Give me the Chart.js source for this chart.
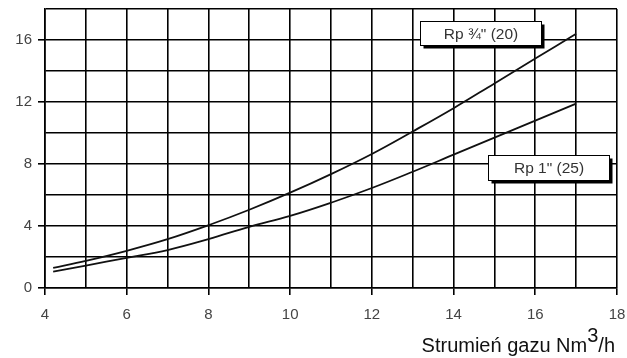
<!DOCTYPE html>
<html>
<head>
<meta charset="utf-8">
<script src="https://cdn.jsdelivr.net/npm/chart.js@4.4.1/dist/chart.umd.min.js"></script>
<style>
  html, body { margin: 0; padding: 0; background: #fff; }
  #wrap { width: 627px; height: 358px; position: relative; }
</style>
</head>
<body>
<div id="wrap"><canvas id="lossChart"></canvas></div>
<script>
/* Pressure drop vs gas flow — Rp ¾" and Rp 1" */

const FLOW       = [4.2, 5, 6, 7, 8, 9, 10, 11, 12, 13, 14, 15, 16, 17];
const DROP_RP34  = [1.3, 1.75, 2.4, 3.15, 4.05, 5.05, 6.15, 7.35, 8.65, 10.1, 11.6, 13.2, 14.8, 16.4];
const DROP_RP1   = [1.05, 1.45, 1.95, 2.45, 3.15, 3.95, 4.65, 5.5, 6.45, 7.5, 8.6, 9.7, 10.8, 11.9];
const SERIES     = ['Rp ¾" (20)', 'Rp 1" (25)'];
const X_TICKS    = [4, 6, 8, 10, 12, 14, 16, 18];
const Y_TICKS    = [0, 4, 8, 12, 16];
const X_TITLE    = ['Strumień gazu Nm', '3', '/h'];

const INK  = '#000';
const TEXT = '#444';
const FONT = '"Liberation Sans", Arial, sans-serif';

const pts = ys => FLOW.map((x, i) => ({ x, y: ys[i] }));

/* boxed curve labels with a drop shadow, anchored in data units */
const labelBoxes = {
  id: 'labelBoxes',
  afterDatasetsDraw(chart) {
    const { ctx, scales: { x, y } } = chart;
    const boxes = [
      { text: SERIES[0], x0: 13.18, x1: 16.15, y0: 17.25, y1: 15.7 },
      { text: SERIES[1], x0: 14.85, x1: 17.8,  y0: 8.6,   y1: 6.95 }
    ];
    ctx.save();
    boxes.forEach(b => {
      const l = Math.round(x.getPixelForValue(b.x0)) + 0.5;
      const r = Math.round(x.getPixelForValue(b.x1)) + 0.5;
      const t = Math.round(y.getPixelForValue(b.y0)) + 0.5;
      const btm = Math.round(y.getPixelForValue(b.y1)) + 0.5;
      ctx.fillStyle = INK;
      ctx.fillRect(l + 3, t + 3, r - l, btm - t);
      ctx.fillStyle = '#fff';
      ctx.fillRect(l, t, r - l, btm - t);
      ctx.strokeStyle = INK;
      ctx.lineWidth = 1;
      ctx.strokeRect(l, t, r - l, btm - t);
      ctx.fillStyle = '#333';
      ctx.font = '15.5px ' + FONT;
      ctx.textAlign = 'center';
      ctx.textBaseline = 'middle';
      ctx.fillText(b.text, (l + r) / 2, (t + btm) / 2 + 1);
    });
    ctx.restore();
  }
};

/* x axis title with a full-size raised "3" */
const axisTitle = {
  id: 'axisTitle',
  afterDraw(chart) {
    const { ctx, width } = chart;
    ctx.save();
    ctx.font = '20px ' + FONT;
    ctx.fillStyle = '#111';
    ctx.textBaseline = 'alphabetic';
    ctx.textAlign = 'left';
    const w = X_TITLE.map(s => ctx.measureText(s).width);
    let cx = width - 12 - (w[0] + w[1] + w[2]);
    const base = 352;
    ctx.fillText(X_TITLE[0], cx, base); cx += w[0];
    ctx.fillText(X_TITLE[1], cx, base - 10); cx += w[1];
    ctx.fillText(X_TITLE[2], cx, base);
    ctx.restore();
  }
};

new Chart(document.getElementById('lossChart'), {
  type: 'line',
  data: {
    datasets: [
      { label: SERIES[0], data: pts(DROP_RP34), borderColor: '#111', borderWidth: 1.8, pointRadius: 0, tension: 0.4, fill: false },
      { label: SERIES[1], data: pts(DROP_RP1),  borderColor: '#111', borderWidth: 1.8, pointRadius: 0, tension: 0.4, fill: false }
    ]
  },
  options: {
    responsive: true,
    maintainAspectRatio: false,
    animation: false,
    layout: { padding: { left: 0, right: 10, top: 9, bottom: 0 } },
    plugins: { legend: { display: false }, tooltip: { enabled: false } },
    scales: {
      x: {
        type: 'linear', min: 4, max: 18,
        afterFit: s => { s.height = 70; s.paddingLeft = 0; s.paddingRight = 0; },
        border: { color: INK, width: 1.6 },
        grid: {
          color: INK, lineWidth: 1.6, tickLength: 7,
          tickColor: c => X_TICKS.includes(c.tick.value) ? INK : 'rgba(0,0,0,0)'
        },
        ticks: {
          stepSize: 1, padding: 11, color: TEXT, autoSkip: false, maxRotation: 0,
          font: { family: FONT, size: 15 },
          callback: v => X_TICKS.includes(v) ? v : ''
        }
      },
      y: {
        type: 'linear', min: 0, max: 18,
        afterFit: s => { s.width = 45; s.paddingTop = 0; s.paddingBottom = 0; },
        border: { color: INK, width: 1.6 },
        grid: {
          color: INK, lineWidth: 1.6, tickLength: 7,
          tickColor: c => Y_TICKS.includes(c.tick.value) ? INK : 'rgba(0,0,0,0)'
        },
        ticks: {
          stepSize: 2, padding: 6, color: TEXT, autoSkip: false,
          font: { family: FONT, size: 15 },
          callback: v => Y_TICKS.includes(v) ? v : ''
        }
      }
    }
  },
  plugins: [labelBoxes, axisTitle]
});
</script>
</body>
</html>
